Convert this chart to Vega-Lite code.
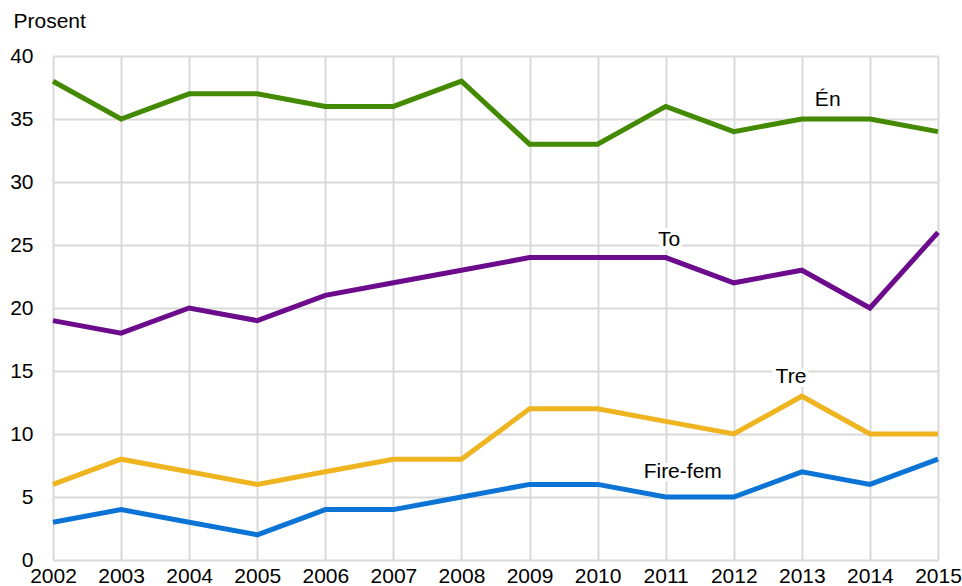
{
  "$schema": "https://vega.github.io/schema/vega-lite/v6.json",
  "width": 885,
  "height": 504,
  "autosize": {"type": "none"},
  "padding": {"left": 53, "top": 56, "right": 24, "bottom": 26},
  "background": "white",
  "config": {
    "view": {"stroke": null},
    "font": "Liberation Sans",
    "axis": {"gridColor": "#d9d9d9", "gridWidth": 2, "domain": false, "ticks": false, "labelFont": "Liberation Sans", "labelFontSize": 21, "labelColor": "#000000"}
  },
  "datasets": {
    "lines": [
      {"year": 2002, "group": "Én", "value": 38}, {"year": 2003, "group": "Én", "value": 35}, {"year": 2004, "group": "Én", "value": 37}, {"year": 2005, "group": "Én", "value": 37}, {"year": 2006, "group": "Én", "value": 36}, {"year": 2007, "group": "Én", "value": 36}, {"year": 2008, "group": "Én", "value": 38}, {"year": 2009, "group": "Én", "value": 33}, {"year": 2010, "group": "Én", "value": 33}, {"year": 2011, "group": "Én", "value": 36}, {"year": 2012, "group": "Én", "value": 34}, {"year": 2013, "group": "Én", "value": 35}, {"year": 2014, "group": "Én", "value": 35}, {"year": 2015, "group": "Én", "value": 34},
      {"year": 2002, "group": "To", "value": 19}, {"year": 2003, "group": "To", "value": 18}, {"year": 2004, "group": "To", "value": 20}, {"year": 2005, "group": "To", "value": 19}, {"year": 2006, "group": "To", "value": 21}, {"year": 2007, "group": "To", "value": 22}, {"year": 2008, "group": "To", "value": 23}, {"year": 2009, "group": "To", "value": 24}, {"year": 2010, "group": "To", "value": 24}, {"year": 2011, "group": "To", "value": 24}, {"year": 2012, "group": "To", "value": 22}, {"year": 2013, "group": "To", "value": 23}, {"year": 2014, "group": "To", "value": 20}, {"year": 2015, "group": "To", "value": 26},
      {"year": 2002, "group": "Tre", "value": 6}, {"year": 2003, "group": "Tre", "value": 8}, {"year": 2004, "group": "Tre", "value": 7}, {"year": 2005, "group": "Tre", "value": 6}, {"year": 2006, "group": "Tre", "value": 7}, {"year": 2007, "group": "Tre", "value": 8}, {"year": 2008, "group": "Tre", "value": 8}, {"year": 2009, "group": "Tre", "value": 12}, {"year": 2010, "group": "Tre", "value": 12}, {"year": 2011, "group": "Tre", "value": 11}, {"year": 2012, "group": "Tre", "value": 10}, {"year": 2013, "group": "Tre", "value": 13}, {"year": 2014, "group": "Tre", "value": 10}, {"year": 2015, "group": "Tre", "value": 10},
      {"year": 2002, "group": "Fire-fem", "value": 3}, {"year": 2003, "group": "Fire-fem", "value": 4}, {"year": 2004, "group": "Fire-fem", "value": 3}, {"year": 2005, "group": "Fire-fem", "value": 2}, {"year": 2006, "group": "Fire-fem", "value": 4}, {"year": 2007, "group": "Fire-fem", "value": 4}, {"year": 2008, "group": "Fire-fem", "value": 5}, {"year": 2009, "group": "Fire-fem", "value": 6}, {"year": 2010, "group": "Fire-fem", "value": 6}, {"year": 2011, "group": "Fire-fem", "value": 5}, {"year": 2012, "group": "Fire-fem", "value": 5}, {"year": 2013, "group": "Fire-fem", "value": 7}, {"year": 2014, "group": "Fire-fem", "value": 6}, {"year": 2015, "group": "Fire-fem", "value": 8}
    ],
    "labels": [
      {"year": 2013.38, "value": 36.5, "label": "Én"},
      {"year": 2011.05, "value": 25.4, "label": "To"},
      {"year": 2012.84, "value": 14.5, "label": "Tre"},
      {"year": 2011.25, "value": 7.0, "label": "Fire-fem"}
    ]
  },
  "layer": [
    {
      "data": {"name": "lines"},
      "mark": {"type": "line", "strokeWidth": 5, "strokeJoin": "miter"},
      "encoding": {
        "x": {"field": "year", "type": "quantitative", "scale": {"domain": [2002, 2015], "nice": false, "zero": false},
              "axis": {"values": [2002,2003,2004,2005,2006,2007,2008,2009,2010,2011,2012,2013,2014,2015], "format": "d", "title": null, "labelPadding": 5, "labelFlush": false, "labelOverlap": false}},
        "y": {"field": "value", "type": "quantitative", "scale": {"domain": [0, 40], "nice": false},
              "axis": {"values": [0,5,10,15,20,25,30,35,40], "title": "Prosent", "titleAngle": 0, "titleAlign": "left", "titleBaseline": "middle", "titleX": -40, "titleY": -35, "titleFont": "Liberation Sans", "titleFontSize": 21, "titleFontWeight": "normal", "titleColor": "#000000", "labelPadding": 20}},
        "color": {"field": "group", "type": "nominal", "legend": null,
                  "scale": {"domain": ["Én", "To", "Tre", "Fire-fem"], "range": ["#438a00", "#6c0c8c", "#efb521", "#0c74d4"]}}
      }
    },
    {
      "data": {"name": "labels"},
      "mark": {"type": "text", "fontSize": 21, "font": "Liberation Sans", "stroke": "white", "strokeWidth": 8, "strokeJoin": "round"},
      "encoding": {
        "x": {"field": "year", "type": "quantitative"},
        "y": {"field": "value", "type": "quantitative"},
        "text": {"field": "label"}
      }
    },
    {
      "data": {"name": "labels"},
      "mark": {"type": "text", "fontSize": 21, "font": "Liberation Sans", "color": "#000000"},
      "encoding": {
        "x": {"field": "year", "type": "quantitative"},
        "y": {"field": "value", "type": "quantitative"},
        "text": {"field": "label"}
      }
    }
  ]
}
